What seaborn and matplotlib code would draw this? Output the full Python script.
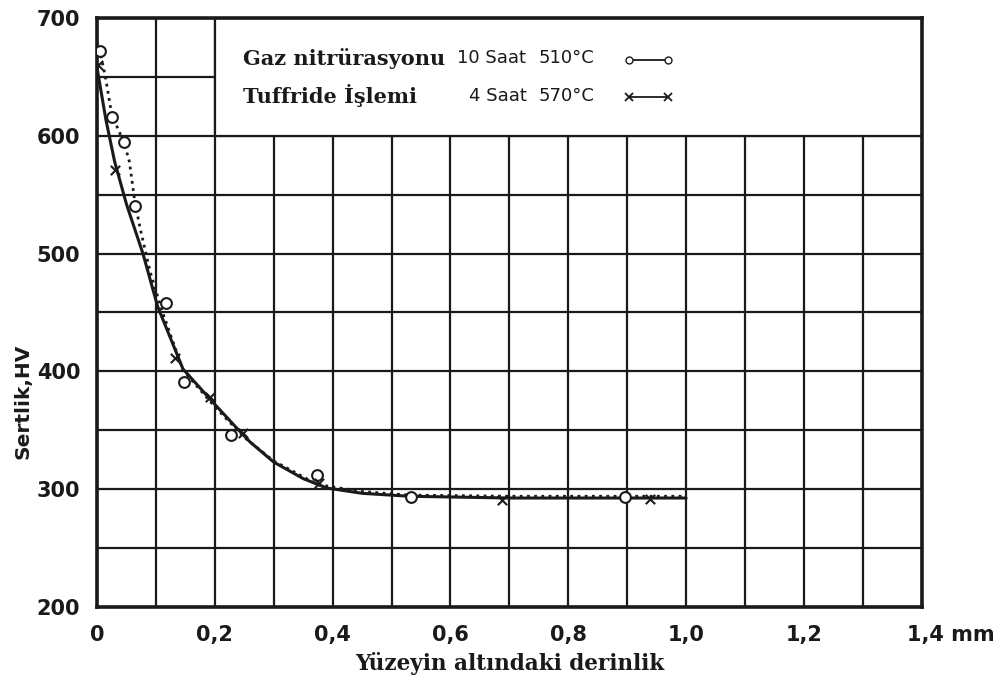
import matplotlib
matplotlib.use("Agg")
import matplotlib.pyplot as plt
from matplotlib.patches import Rectangle
from matplotlib.lines import Line2D
from matplotlib.transforms import ScaledTranslation
import pandas as pd
import seaborn as sns

# Gaz nitrürasyonu (10 saat, 510 °C): ölçülen sertlik değerleri
gaz_derinlik = [0.005, 0.025, 0.046, 0.064, 0.117, 0.147, 0.228, 0.374, 0.533, 0.897]
gaz_sertlik = [672, 616, 595, 540, 458, 391, 346, 312, 293, 293]

# Tuffride işlemi (4 saat, 570 °C): ölçülen sertlik değerleri
tuf_derinlik = [0.002, 0.030, 0.132, 0.191, 0.247, 0.377, 0.687, 0.939]
tuf_sertlik = [660, 571, 411, 378, 348, 305, 291, 292]

# Elle çizilmiş ortalama eğriler
gaz_egri_x = [0.0, 0.005, 0.015, 0.025, 0.046, 0.055, 0.064, 0.073, 0.09, 0.11,
              0.146, 0.20, 0.25, 0.30, 0.374, 0.45, 0.53, 0.70, 1.0]
gaz_egri_y = [680, 672, 648, 618, 594, 578, 545, 522, 485, 452,
              401, 370, 344, 324, 304, 298, 295, 294, 294]
tuf_egri_x = [0.0, 0.015, 0.03, 0.05, 0.078, 0.103, 0.146, 0.20, 0.237, 0.26,
              0.30, 0.35, 0.39, 0.45, 0.53, 0.70, 1.0]
tuf_egri_y = [658, 614, 578, 542, 500, 455, 402, 372, 352, 340,
              323, 309, 301, 296.5, 294, 292.5, 292.5]

x_ticks = [0.0, 0.2, 0.4, 0.6, 0.8, 1.0, 1.2, 1.4]
x_tick_labels = ["0", "0,2", "0,4", "0,6", "0,8", "1,0", "1,2", "1,4 mm"]
y_ticks = [200, 300, 400, 500, 600, 700]

legend_names = ["Gaz nitrürasyonu", "Tuffride İşlemi"]
legend_times = ["10 Saat", "4 Saat"]
legend_temps = ["510°C", "570°C"]

sns.set_theme(style="white")
plt.rcParams["font.family"] = ["DejaVu Sans"]

fig = plt.figure(figsize=(10.03, 6.82), dpi=100)
ax = fig.add_axes([0.0967, 0.110, 0.8223, 0.8636])

ink = "#1a1a1a"

gaz_curve = pd.DataFrame({"derinlik": gaz_egri_x, "sertlik": gaz_egri_y})
tuf_curve = pd.DataFrame({"derinlik": tuf_egri_x, "sertlik": tuf_egri_y})
gaz_pts = pd.DataFrame({"derinlik": gaz_derinlik, "sertlik": gaz_sertlik})
tuf_pts = pd.DataFrame({"derinlik": tuf_derinlik, "sertlik": tuf_sertlik})

sns.lineplot(data=tuf_curve, x="derinlik", y="sertlik", ax=ax, color=ink,
             linewidth=2.2, sort=False, zorder=4)
sns.lineplot(data=gaz_curve, x="derinlik", y="sertlik", ax=ax, color=ink,
             linewidth=2.0, linestyle=(0, (1, 1.6)), sort=False, zorder=4)
sns.scatterplot(data=gaz_pts, x="derinlik", y="sertlik", ax=ax, marker="o",
                s=60, facecolor="white", edgecolor=ink, linewidth=1.5, zorder=5)
sns.scatterplot(data=tuf_pts, x="derinlik", y="sertlik", ax=ax, marker="x",
                s=45, color=ink, linewidth=1.5, zorder=5)

ax.set_xlim(0, 1.4)
ax.set_ylim(200, 700)
ax.set_xticks(x_ticks)
ax.set_xticks([i / 10 for i in range(15)], minor=True)
ax.set_yticks(y_ticks)
ax.set_yticks(list(range(200, 701, 50)), minor=True)
ax.set_xticklabels(x_tick_labels)
ax.set_axisbelow(True)
ax.grid(which="both", color=ink, linewidth=1.6)
ax.tick_params(which="both", length=0)
ax.tick_params(axis="x", pad=13, labelsize=15, labelcolor=ink)
ax.tick_params(axis="y", pad=12, labelsize=15, labelcolor=ink)
for lbl in ax.get_xticklabels() + ax.get_yticklabels():
    lbl.set_fontweight("bold")

last = ax.get_xticklabels()[-1]
last.set_horizontalalignment("left")
last.set_transform(last.get_transform() + ScaledTranslation(-15 / 100, 0, fig.dpi_scale_trans))

for side in ax.spines.values():
    side.set_color(ink)
    side.set_linewidth(2.6)

# legend panel with no grid inside
ax.add_patch(Rectangle((0.2, 600), 1.2, 100, facecolor="white", edgecolor=ink,
                       linewidth=1.6, zorder=1))

serif = ["DejaVu Serif"]
rows_y = [666, 634]
for yy, name, tm, tp in zip(rows_y, legend_names, legend_times, legend_temps):
    ax.text(0.247, yy, name, family=serif, fontweight="bold", fontsize=15,
            color=ink, va="center", ha="left", zorder=6)
    ax.text(0.729, yy, tm, fontsize=13, color=ink,
            va="center", ha="right", zorder=6)
    ax.text(0.749, yy, tp, fontsize=13, color=ink,
            va="center", ha="left", zorder=6)

h_gaz = Line2D([], [], color=ink, linewidth=1.3, marker="o", markersize=5,
               markerfacecolor="white", markeredgecolor=ink)
h_tuf = Line2D([], [], color=ink, linewidth=1.3, marker="x", markersize=6,
               markeredgewidth=1.3)
leg = ax.legend([h_gaz, h_tuf], ["", ""], numpoints=2, frameon=False,
                handlelength=2.6, labelspacing=0.9, handletextpad=0,
                loc="upper left", bbox_to_anchor=(0.617, 0.972),
                fontsize=14)
leg.set_zorder(6)

ax.set_xlabel("Yüzeyin altındaki derinlik", family=serif, fontweight="bold",
              fontsize=15.5, color=ink, labelpad=5)
ax.set_ylabel("Sertlik,HV", fontweight="bold", fontsize=14.5, color=ink)
ax.yaxis.set_label_coords(-0.078, 0.35)

fig.savefig("out.png", dpi=100, facecolor="white")
